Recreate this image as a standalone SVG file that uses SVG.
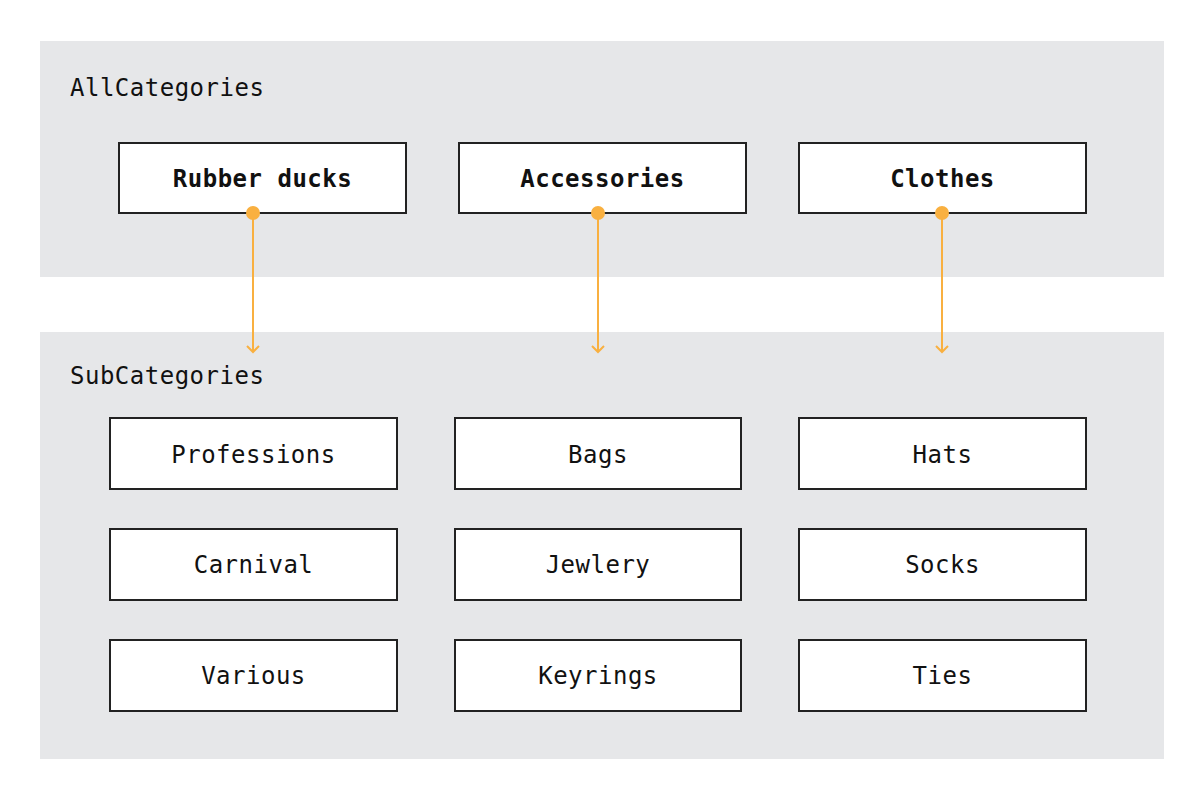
<svg xmlns="http://www.w3.org/2000/svg" width="1198" height="797" viewBox="0 0 1198 797">
<defs>
<style>
.panel{fill:#e6e7e9}
.box{fill:#fff;stroke:#222;stroke-width:2}
.t{font-family:"DejaVu Sans Mono","Liberation Mono",monospace;font-size:24px;fill:#111;text-anchor:middle;letter-spacing:0.5px}
.b{font-weight:bold}
.lbl{text-anchor:start}
.con{stroke:#f9b040;stroke-width:2;fill:none}
.dot{fill:#f9b040}
</style>
<marker id="arr" viewBox="0 0 12 14" refX="9" refY="7" markerWidth="12" markerHeight="14" markerUnits="userSpaceOnUse" orient="auto">
<path d="M3,1 L9,7 L3,13" fill="none" stroke="#f9b040" stroke-width="2"/>
</marker>
</defs>
<rect width="1198" height="797" fill="#fff"/>
<g id="AllCategories">
<rect class="panel" x="40" y="41" width="1124" height="236"/>
<text class="t lbl" x="70" y="96">AllCategories</text>
</g>
<g id="SubCategories">
<rect class="panel" x="40" y="332" width="1124" height="427"/>
<text class="t lbl" x="70" y="384">SubCategories</text>
</g>
<g id="rubber-ducks"><rect class="box" x="119" y="143" width="287" height="70"/><text class="t b" x="262.5" y="187">Rubber ducks</text></g>
<g id="accessories"><rect class="box" x="459" y="143" width="287" height="70"/><text class="t b" x="602.5" y="187">Accessories</text></g>
<g id="clothes"><rect class="box" x="799" y="143" width="287" height="70"/><text class="t b" x="942.5" y="187">Clothes</text></g>
<g id="professions"><rect class="box" x="110" y="418" width="287" height="71"/><text class="t" x="253.5" y="463">Professions</text></g>
<g id="carnival"><rect class="box" x="110" y="529" width="287" height="71"/><text class="t" x="253.5" y="573">Carnival</text></g>
<g id="various"><rect class="box" x="110" y="640" width="287" height="71"/><text class="t" x="253.5" y="684">Various</text></g>
<g id="bags"><rect class="box" x="455" y="418" width="286" height="71"/><text class="t" x="598" y="463">Bags</text></g>
<g id="jewlery"><rect class="box" x="455" y="529" width="286" height="71"/><text class="t" x="598" y="573">Jewlery</text></g>
<g id="keyrings"><rect class="box" x="455" y="640" width="286" height="71"/><text class="t" x="598" y="684">Keyrings</text></g>
<g id="hats"><rect class="box" x="799" y="418" width="287" height="71"/><text class="t" x="942.5" y="463">Hats</text></g>
<g id="socks"><rect class="box" x="799" y="529" width="287" height="71"/><text class="t" x="942.5" y="573">Socks</text></g>
<g id="ties"><rect class="box" x="799" y="640" width="287" height="71"/><text class="t" x="942.5" y="684">Ties</text></g>
<g id="connectors">
<line class="con" x1="253" y1="213" x2="253" y2="352" marker-end="url(#arr)"/>
<line class="con" x1="598" y1="213" x2="598" y2="352" marker-end="url(#arr)"/>
<line class="con" x1="942" y1="213" x2="942" y2="352" marker-end="url(#arr)"/>
<circle class="dot" cx="253" cy="213" r="7"/>
<circle class="dot" cx="598" cy="213" r="7"/>
<circle class="dot" cx="942" cy="213" r="7"/>
</g>
</svg>
